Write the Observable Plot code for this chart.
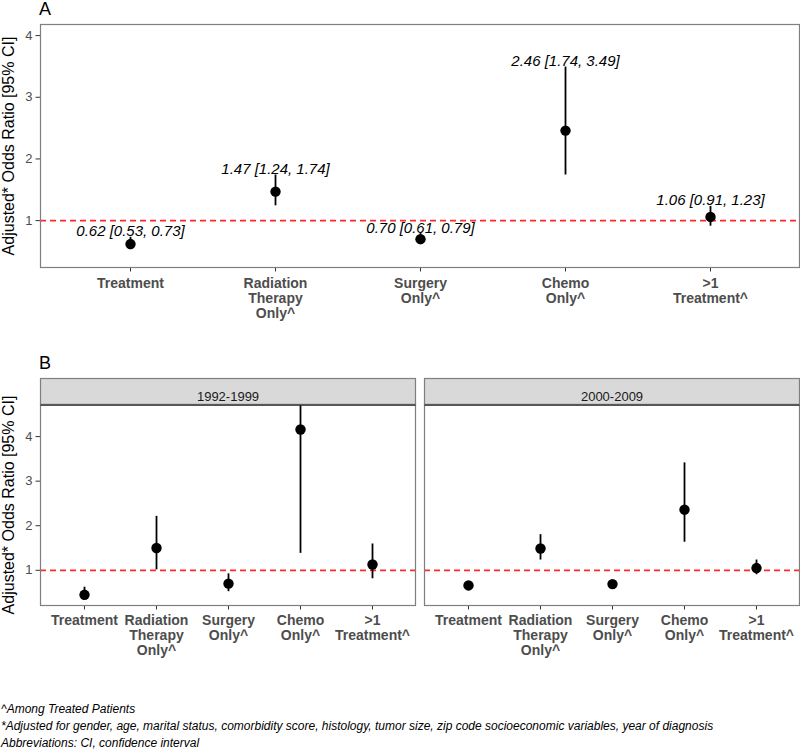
<!DOCTYPE html>
<html>
<head>
<meta charset="utf-8">
<script src="https://cdn.jsdelivr.net/npm/d3@7"></script>
<script src="https://cdn.jsdelivr.net/npm/@observablehq/plot@0.6"></script>
<style>
  body { margin: 0; background: #fff; }
  #wrap { position: relative; width: 800px; height: 750px; overflow: hidden; font-family: "Liberation Sans", Arial, sans-serif; }
  #wrap > svg { position: absolute; left: 0; }
</style>
</head>
<body>
<div id="wrap"></div>
<script>
// ---------- data ----------
const categories = ["Treatment", "Radiation\nTherapy\nOnly^", "Surgery\nOnly^", "Chemo\nOnly^", ">1\nTreatment^"];

// Panel A (overall)
const orA   = [0.62, 1.47, 0.70, 2.46, 1.06];
const lowA  = [0.53, 1.24, 0.61, 1.74, 0.91];
const highA = [0.73, 1.74, 0.79, 3.49, 1.23];

// Panel B (by period)
const periods = ["1992-1999", "2000-2009"];
const orB1   = [0.45, 1.50, 0.70, 4.16, 1.13];
const lowB1  = [0.33, 1.01, 0.52, 1.38, 0.81];
const highB1 = [0.62, 2.21, 0.92, 12.5, 1.59];
const orB2   = [0.66, 1.49, 0.69, 2.36, 1.05];
const lowB2  = [0.58, 1.23, 0.64, 1.63, 0.90];
const highB2 = [0.75, 1.80, 0.75, 3.41, 1.23];

const yTicks = [1, 2, 3, 4];
const refValue = 1;
const yTitle = "Adjusted* Odds Ratio [95% CI]";
const tagA = "A";
const tagB = "B";
const captions = [
  "^Among Treated Patients",
  "*Adjusted for gender, age, marital status, comorbidity score, histology, tumor size, zip code socioeconomic variables, year of diagnosis",
  "Abbreviations: CI, confidence interval"
];

// ---------- tables ----------
const rowsA = categories.map((c, i) => ({cat: c, or: orA[i], lo: lowA[i], hi: highA[i]}));
const seriesB = [[orB1, lowB1, highB1], [orB2, lowB2, highB2]];
const rowsB = periods.flatMap((p, j) => categories.map((c, i) => ({
  period: p, cat: c, or: seriesB[j][0][i], lo: seriesB[j][1][i], hi: seriesB[j][2][i]
})));

const fmt = v => v.toFixed(2);
const FONT = '"Liberation Sans", Arial, Helvetica, sans-serif';
const RED = "#ff2a2a";
const BORDER = "#7f7f7f";

const wrap = document.getElementById("wrap");

// ---------- Panel A ----------
const plotA = Plot.plot({
  width: 800, height: 330,
  marginTop: 24, marginBottom: 63, marginLeft: 40, marginRight: 1,
  style: {fontFamily: FONT, background: "transparent", overflow: "visible"},
  x: {type: "point", domain: categories, padding: 0.6},
  y: {domain: [0.24, 4.18]},
  marks: [
    Plot.ruleY([refValue], {stroke: RED, strokeWidth: 1.8, strokeDasharray: "6,4"}),
    Plot.ruleX(rowsA, {x: "cat", y1: "lo", y2: "hi", stroke: "black", strokeWidth: 1.8}),
    Plot.dot(rowsA, {x: "cat", y: "or", r: 5.2, fill: "black", stroke: null}),
    Plot.text(rowsA, {x: "cat", y: "hi", text: d => `${fmt(d.or)} [${fmt(d.lo)}, ${fmt(d.hi)}]`,
      lineAnchor: "bottom", fontStyle: "italic", fontSize: 15, fill: "black", dy: -1}),
    Plot.axisY({ticks: yTicks, tickFormat: d => String(d), tickSize: 4.5, tickPadding: 3.5, stroke: "#333", fill: "#4d4d4d", fontSize: 13, label: null}),
    Plot.axisX({tickSize: 4.5, tickPadding: 5, stroke: "#333", fill: "#4d4d4d", fontSize: 14, fontWeight: "bold", lineHeight: 1.08, label: null}),
    Plot.text([yTitle], {frameAnchor: "left", textAnchor: "middle", rotate: -90, dx: -31.5, fontSize: 16, fill: "black"}),
    Plot.frame({stroke: BORDER, strokeWidth: 1.2})
  ]
});
plotA.style.top = "0px";
wrap.appendChild(plotA);

// ---------- Panel B ----------
const panelH = 201;
const plotB = Plot.plot({
  width: 800, height: 325,
  marginTop: 64, marginBottom: 60, marginLeft: 40, marginRight: 1,
  style: {fontFamily: FONT, background: "transparent", overflow: "visible"},
  fx: {domain: periods, paddingInner: 9 / 384, paddingOuter: 0, axis: null},
  x: {type: "point", domain: categories, padding: 0.6},
  y: {domain: [0.21, 4.72], clamp: true},
  marks: [
    Plot.frame({fill: "#d9d9d9", stroke: BORDER, strokeWidth: 1.2, insetTop: -26, insetBottom: panelH}),
    Plot.text(periods, {fx: d => d, text: d => d, frameAnchor: "top", dy: -13, fontSize: 13, fill: "#1a1a1a"}),
    Plot.ruleY([refValue], {stroke: RED, strokeWidth: 1.8, strokeDasharray: "6,4"}),
    Plot.ruleX(rowsB, {fx: "period", x: "cat", y1: "lo", y2: "hi", stroke: "black", strokeWidth: 1.8}),
    Plot.dot(rowsB, {fx: "period", x: "cat", y: "or", r: 5.2, fill: "black", stroke: null}),
    Plot.axisY({ticks: yTicks, tickFormat: d => String(d), tickSize: 4.5, tickPadding: 3.5, stroke: "#333", fill: "#4d4d4d", fontSize: 13, label: null}),
    Plot.axisX({tickSize: 4.5, tickPadding: 4, stroke: "#333", fill: "#4d4d4d", fontSize: 14, fontWeight: "bold", lineHeight: 1.08, label: null}),
    Plot.text([yTitle], {fx: [periods[0]], frameAnchor: "left", textAnchor: "middle", rotate: -90, dx: -31.5, fontSize: 16, fill: "black"}),
    Plot.frame({stroke: BORDER, strokeWidth: 1.2}),
    Plot.frame({fill: "#333", insetBottom: panelH - 1.3})
  ]
});
plotB.style.top = "340px";
wrap.appendChild(plotB);

// ---------- tags & captions ----------
const over = d3.select(wrap).append("svg")
  .attr("width", 800).attr("height", 750)
  .style("top", "0px").style("pointer-events", "none")
  .style("font-family", FONT);
over.append("text").attr("x", 39).attr("y", 15).attr("font-size", 18).attr("fill", "black").text(tagA);
over.append("text").attr("x", 39).attr("y", 368.5).attr("font-size", 18).attr("fill", "black").text(tagB);
const capY = [713, 729.5, 746.5];
captions.forEach((c, i) => {
  over.append("text").attr("x", 1).attr("y", capY[i]).attr("font-size", 12)
    .attr("font-style", "italic").attr("fill", "black").text(c);
});
</script>
</body>
</html>
